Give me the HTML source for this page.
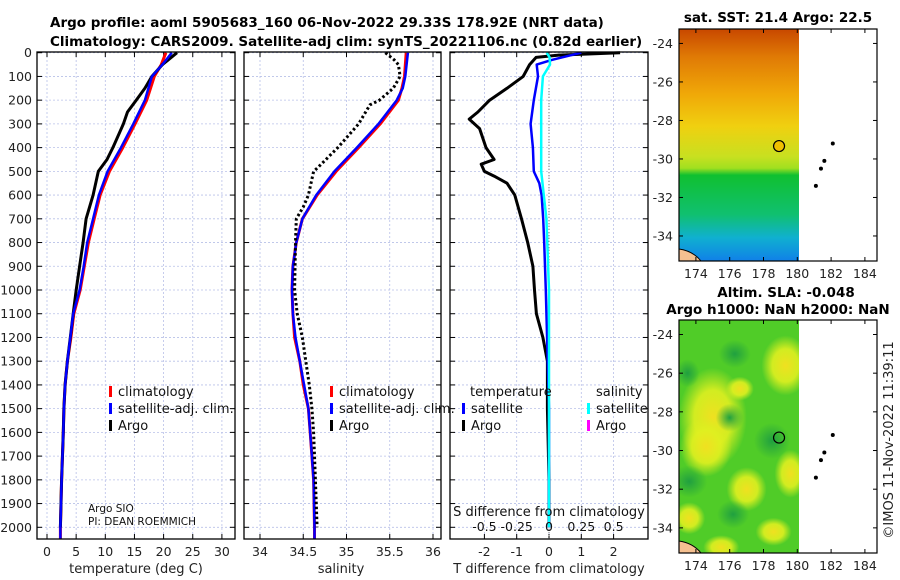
<!DOCTYPE html>
<html><head><meta charset="utf-8"><style>
html,body{margin:0;padding:0;background:#fff;}
svg{display:block;font-family:"DejaVu Sans","Liberation Sans",sans-serif;}
</style></head><body>
<svg id="fig" width="900" height="580" viewBox="0 0 900 580">
<defs>
<linearGradient id="sstGrad" x1="0" y1="0" x2="0" y2="1">
<stop offset="0" stop-color="#c84800"/><stop offset="0.12" stop-color="#e07a05"/>
<stop offset="0.28" stop-color="#f0a808"/><stop offset="0.42" stop-color="#f0d010"/>
<stop offset="0.55" stop-color="#c8e020"/><stop offset="0.6" stop-color="#a0e020"/><stop offset="0.63" stop-color="#10c030"/>
<stop offset="0.8" stop-color="#10c070"/><stop offset="0.9" stop-color="#10b0d0"/>
<stop offset="1" stop-color="#1080e8"/></linearGradient>
<radialGradient id="blob"><stop offset="0" stop-color="#f0e020"/><stop offset="0.55" stop-color="#e0f020" stop-opacity="0.9"/><stop offset="1" stop-color="#d8ee20" stop-opacity="0"/></radialGradient>
<radialGradient id="dblob"><stop offset="0" stop-color="#20a040"/><stop offset="1" stop-color="#20a040" stop-opacity="0"/></radialGradient>
</defs>
<g id="root"></g>
</svg>
<script>
// ---- data ----
const depthT = [0,50,100,200,300,400,500,600,700,800,900,1000,1100,1200,1300,1400,1500,1600,1800,2000,2050];
const tempClim = [20.4,19.6,18.4,17.1,15.1,13.0,10.7,9.1,8.1,7.1,6.4,5.7,4.6,4.1,3.5,3.1,2.9,2.8,2.5,2.3,2.3];
const tempSat  = [21.4,19.8,18.0,16.8,14.8,12.7,10.4,8.9,7.9,6.9,6.3,5.6,4.5,4.0,3.5,3.1,2.9,2.8,2.5,2.3,2.3];
const depthA = [0,30,50,100,150,200,250,300,400,450,500,600,700,800,900,1000,1100,1200,1300,1400,1500,1600,1800,2000];
const tempArgo = [22.3,20.8,19.8,18.0,16.8,15.3,13.8,13.1,11.3,10.3,8.8,7.9,6.7,6.2,5.6,5.0,4.5,4.0,3.5,3.1,2.9,2.8,2.5,2.3];
const depthS = [0,100,150,200,300,400,500,600,700,800,900,1000,1100,1200,1300,1400,1500,1600,1700,1800,2000,2050];
const salClim = [35.69,35.67,35.64,35.6,35.39,35.14,34.88,34.66,34.49,34.42,34.38,34.37,34.38,34.4,34.46,34.5,34.56,34.58,34.6,34.62,34.63,34.63];
const salSat  = [35.71,35.68,35.65,35.58,35.37,35.12,34.86,34.65,34.49,34.42,34.38,34.37,34.38,34.41,34.46,34.51,34.56,34.58,34.6,34.62,34.63,34.63];
const depthSA = [0,30,50,100,150,200,220,300,400,480,500,600,650,700,800,1000,1100,1200,1300,1400,1500,1600,1800,2000];
const salArgo = [35.45,35.55,35.6,35.62,35.54,35.38,35.27,35.14,34.9,34.68,34.62,34.56,34.5,34.42,34.41,34.4,34.43,34.49,34.53,34.57,34.6,34.62,34.64,34.66];
const depthD = [0,10,20,50,100,150,200,250,280,320,400,450,470,500,520,550,600,700,800,900,1000,1100,1200,1300,1500,1800,2000];
const tDiffArgo = [2.2,0.3,-0.4,-0.6,-0.8,-1.3,-1.84,-2.2,-2.47,-2.15,-1.95,-1.7,-2.1,-2.0,-1.7,-1.3,-1.06,-0.85,-0.66,-0.5,-0.45,-0.39,-0.19,-0.05,-0.05,0,0];
const depthD2 = [0,30,50,100,200,300,400,500,550,600,700,800,1000,1500,2000];
const tDiffSat = [1.0,0.1,-0.38,-0.34,-0.47,-0.57,-0.5,-0.47,-0.3,-0.23,-0.18,-0.15,-0.1,0,0];
const depthD3 = [0,20,50,100,200,300,400,500,600,700,1000,2000];
const sDiffSat = [-0.018,0.005,0.008,-0.047,-0.06,-0.06,-0.06,-0.06,-0.04,-0.02,0,0];
const depthTicks = [0,100,200,300,400,500,600,700,800,900,1000,1100,1200,1300,1400,1500,1600,1700,1800,1900,2000];
const tempTicks = [0,5,10,15,20,25,30];
const salTicks = [34,34.5,35,35.5,36];
const tdTicks = [-2,-1,0,1,2];
const sdTicks = [-0.5,-0.25,0,0.25,0.5];
const sdTickLabels = ["-0.5","-0.25","0","0.25","0.5"];
const latTicks = [-24,-26,-28,-30,-32,-34];
const lonTicks = [174,176,178,180,182,184];
const islandLon = [182.1,181.6,181.4,181.1];
const islandLat = [-29.2,-30.1,-30.5,-31.4];
const floatLon = 178.92, floatLat = -29.33;

const NS="http://www.w3.org/2000/svg";
const root=document.getElementById('root');
function el(tag,attrs,parent,text){const e=document.createElementNS(NS,tag);for(const k in attrs)e.setAttribute(k,attrs[k]);if(text!==undefined)e.textContent=text;(parent||root).appendChild(e);return e;}

const Y0=52.7, YS=0.2373;
const yD=d=>Y0+d*YS;
const PT=539;
function panel(name,x0,x1,xf,xticks,xlabels){
  const g=el('g',{});
  
  
  xticks.forEach(t=>{const x=xf(t);el('line',{x1:x,x2:x,y1:52,y2:PT,stroke:'#b8c0e8','stroke-width':0.8,'stroke-dasharray':'2,2'},g);});
  depthTicks.forEach(d=>{const y=yD(d);el('line',{x1:x0,x2:x1,y1:y,y2:y,stroke:'#b8c0e8','stroke-width':0.8,'stroke-dasharray':'2,2'},g);
    el('line',{x1:x0,x2:x0+5,y1:y,y2:y,stroke:'#000'},g);el('line',{x1:x1-5,x2:x1,y1:y,y2:y,stroke:'#000'},g);});
  xticks.forEach(t=>{const x=xf(t);el('line',{x1:x,x2:x,y1:PT-5,y2:PT,stroke:'#000'},g);el('line',{x1:x,x2:x,y1:52,y2:57,stroke:'#000'},g);});
  if(xlabels){xticks.forEach((t,i)=>{const tx=el('text',{x:xf(t),y:556,'font-size':12.5,'text-anchor':'middle',fill:'#222'},g,xlabels[i]);});}
  return g;
}
function line(g,xs,ds,xf,color,w,dash,name){
  const pts=xs.map((v,i)=>xf(v).toFixed(1)+','+yD(ds[i]).toFixed(1)).join(' ');
  const p=el('polyline',{points:pts,fill:'none',stroke:color,'stroke-width':w,'stroke-linejoin':'round'},g);
  if(dash)p.setAttribute('stroke-dasharray',dash);
  
  
}
function frame(g,x0,x1){el('rect',{x:x0,y:52,width:x1-x0,height:PT-52,fill:'none',stroke:'#000','stroke-width':1.3},g);}

const xT=v=>47+v*5.83;
const g1=panel('temperature-panel',37,235,xT,tempTicks,tempTicks.map(String));
line(g1,tempClim,depthT,xT,'#f00',3,null,'temp-climatology-line');
line(g1,tempArgo,depthA,xT,'#000',3,null,'temp-argo-line');
line(g1,tempSat,depthT,xT,'#00f',2.5,null,'temp-satellite-line');
frame(g1,37,235);
depthTicks.forEach(d=>{const t=el('text',{x:32,y:yD(d)+4.5,'font-size':12.5,'text-anchor':'end',fill:'#222'},g1,String(d));});
el('text',{x:136,y:573,'font-size':13,'text-anchor':'middle',fill:'#222'},g1,'temperature (deg C)');

function legend(g,x,items,name){
  const lg=el('g',{},g);
  items.forEach((it,i)=>{const y=392+i*17;
    if(it[0])el('rect',{x:x,y:y-6,width:3,height:11,fill:it[0]},lg);
    el('text',{x:x+(it[0]?9:0),y:y+4,'font-size':13,fill:'#111'},lg,it[1]);});
}
legend(g1,109,[['#f00','climatology'],['#00f','satellite-adj. clim.'],['#000','Argo']],'temperature-legend');
el('text',{x:88,y:512,'font-size':10.5,fill:'#111'},g1,'Argo SIO');
el('text',{x:88,y:525,'font-size':10.5,fill:'#111'},g1,'PI: DEAN ROEMMICH');

const xS=v=>260+(v-34)*86.5;
const g2=panel('salinity-panel',244,441,xS,salTicks,['34','34.5','35','35.5','36']);
line(g2,salClim,depthS,xS,'#f00',3,null,'sal-climatology-line');
line(g2,salSat,depthS,xS,'#00f',2.5,null,'sal-satellite-line');
line(g2,salArgo,depthSA,xS,'#000',3,'2.5,2.5','sal-argo-line');
frame(g2,244,441);
el('text',{x:341,y:573,'font-size':13,'text-anchor':'middle',fill:'#222'},g2,'salinity');
legend(g2,330,[['#f00','climatology'],['#00f','satellite-adj. clim.'],['#000','Argo']],'salinity-legend');

const xD=v=>549+v*32.3;
const xSD=v=>549+v*129.2;
const g3=panel('difference-panel',450,648,xD,tdTicks,tdTicks.map(String));
el('line',{x1:549,x2:549,y1:88,y2:PT,stroke:'#777','stroke-width':1,'stroke-dasharray':'1,2'},g3);
line(g3,tDiffArgo,depthD,xD,'#000',3,null,'tdiff-argo-line');
line(g3,tDiffSat,depthD2,xD,'#00f',2.5,null,'tdiff-satellite-line');
line(g3,sDiffSat,depthD3,xSD,'#0ff',2.5,null,'sdiff-satellite-line');
frame(g3,450,648);
sdTicks.forEach((t,i)=>{el('text',{x:xSD(t),y:531,'font-size':12.5,'text-anchor':'middle',fill:'#111'},g3,sdTickLabels[i]);});
el('text',{x:549,y:516,'font-size':13,'text-anchor':'middle',fill:'#111'},g3,'S difference from climatology');
el('text',{x:549,y:573,'font-size':13,'text-anchor':'middle',fill:'#222'},g3,'T difference from climatology');
legend(g3,462,[[null,''],['#00f','satellite'],['#000','Argo']],'tdiff-legend');
el('text',{x:470,y:396,'font-size':13,fill:'#111'},g3,'temperature');
legend(g3,587,[[null,''],['#0ff','satellite'],['#f0f','Argo']],'sdiff-legend');
el('text',{x:596,y:396,'font-size':13,fill:'#111'},g3,'salinity');

el('text',{x:50,y:27,'font-size':13.5,'font-weight':'bold',fill:'#000'},root,'Argo profile: aoml 5905683_160 06-Nov-2022 29.33S 178.92E (NRT data)');
el('text',{x:50,y:46,'font-size':13.5,'font-weight':'bold',fill:'#000'},root,'Climatology: CARS2009. Satellite-adj clim: synTS_20221106.nc (0.82d earlier)');

function map(name,top,bottom,fillFn,circFill,titles){
  const g=el('g',{});
  const L=679,R=877;
  const lonX=v=>L+(v-173)*16.9;
  const latY=v=>top+( -23.25 - v)*((bottom-top)/12.05);
  const cl=el('clipPath',{id:name+'-clip'},g);
  el('rect',{x:L,y:top,width:lonX(180.1)-L,height:bottom-top},cl);
  const fg=el('g',{'clip-path':'url(#'+name+'-clip)'},g);
  fillFn(fg,L,lonX(180.1),top,bottom,lonX,latY);
  el('path',{d:`M${L},${bottom-12} Q${L+14},${bottom-10} ${L+22},${bottom} L${L},${bottom} Z`,fill:'#f5c090',stroke:'#000','stroke-width':1},g);
  el('rect',{x:L,y:top,width:R-L,height:bottom-top,fill:'none',stroke:'#000','stroke-width':1.2},g);
  latTicks.forEach(t=>{const y=latY(t);el('line',{x1:L,x2:L+4,y1:y,y2:y,stroke:'#000'},g);el('line',{x1:R-4,x2:R,y1:y,y2:y,stroke:'#000'},g);
    el('text',{x:L-6,y:y+4.5,'font-size':12.5,'text-anchor':'end',fill:'#222'},g,String(t));});
  lonTicks.forEach(t=>{const x=lonX(t);el('line',{x1:x,x2:x,y1:bottom-4,y2:bottom,stroke:'#000'},g);el('line',{x1:x,x2:x,y1:top,y2:top+4,stroke:'#000'},g);
    el('text',{x:x,y:bottom+17,'font-size':12.5,'text-anchor':'middle',fill:'#222'},g,String(t));});
  islandLon.forEach((lo,i)=>{el('circle',{cx:lonX(lo),cy:latY(islandLat[i]),r:2,fill:'#000'},g);});
  const c=el('circle',{cx:lonX(floatLon),cy:latY(floatLat),r:5.5,fill:circFill,stroke:'#000','stroke-width':1.2},g);
  
  titles.forEach((t,i)=>{el('text',{x:t[1],y:t[2],'font-size':13.5,'font-weight':'bold','text-anchor':'middle',fill:'#000'},g,t[0]);});
}
map('sst-map',29,261,(g,x0,x1,t,b)=>{el('rect',{x:x0,y:t,width:x1-x0,height:b-t,fill:'url(#sstGrad)'},g);},'#f0c000',
  [['sat. SST: 21.4 Argo: 22.5',778,22],['Altim. SLA: -0.048',786,297]]);
map('sla-map',320,553,(g,x0,x1,t,b,lx,ly)=>{el('rect',{x:x0,y:t,width:x1-x0,height:b-t,fill:'#50cc28'},g);
  const blobs=[[175,-28.3,34,50],[174.6,-29.8,26,30],[177,-32,20,22],[179.3,-25.6,24,30],[179.6,-31.2,16,24],[173.6,-33.5,16,16],[178.6,-34.2,18,14],[175.5,-35,18,12],[176.6,-26.8,14,12]];
  blobs.forEach(bl=>el('ellipse',{cx:lx(bl[0]),cy:ly(bl[1]),rx:bl[2],ry:bl[3],fill:'url(#blob)'},g));
  const dark=[[176,-28.3,14,14],[173.6,-31.6,18,16],[178.5,-29.5,18,18],[176.2,-33.3,16,14],[176.3,-25,16,14],[173.5,-26,12,14]];
  dark.forEach(bl=>el('ellipse',{cx:lx(bl[0]),cy:ly(bl[1]),rx:bl[2],ry:bl[3],fill:'url(#dblob)'},g));
 },'none',[['Argo h1000: NaN h2000: NaN',778,314]]);

const cr=el('text',{x:0,y:0,'font-size':13,fill:'#222','text-anchor':'middle',transform:'translate(893,440) rotate(-90)'},root,'©IMOS 11-Nov-2022 11:39:11');


</script>
</body></html>
